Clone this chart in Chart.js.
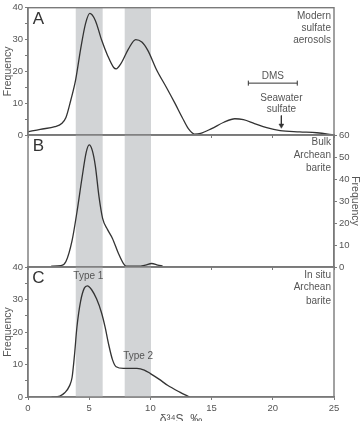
<!DOCTYPE html>
<html>
<head>
<meta charset="utf-8">
<script src="https://cdn.jsdelivr.net/npm/chart.js@4.4.1/dist/chart.umd.min.js"></script>
<style>
	html, body { margin: 0; padding: 0; background: #fff; }
	#wrap { position: relative; width: 363px; height: 421px; overflow: hidden; }
	#wrap canvas { position: absolute; left: 0; top: 0; }
</style>
</head>
<body>
<div id="wrap">
	<canvas id="panel-a" width="363" height="421"></canvas>
	<canvas id="panel-b" width="363" height="421"></canvas>
	<canvas id="panel-c" width="363" height="421"></canvas>
</div>
<script>
'use strict';

// x axis: delta34S, permil
const xTicks = [0, 5, 10, 15, 20, 25];
const grayBands = [[3.9, 6.1], [7.9, 10.05]];

// A: modern sulfate aerosols (left axis 0-40)
const aerosolX = [0, 1.0, 2.2, 2.75, 3.1, 3.5, 3.9, 4.3, 4.7, 5.05, 5.5, 6.0, 6.5, 7.0, 7.2, 7.6, 8.2, 8.8, 9.3, 9.8, 10.5, 11.3, 12.0, 12.6, 13.1, 13.6, 14.1, 15.0, 16.0, 16.9, 17.6, 18.5, 19.5, 20.6, 22.2, 23.6, 24.5, 25];
const aerosolY = [1.0, 1.8, 2.6, 3.6, 5.5, 11, 17.5, 27, 35, 38.2, 36, 30, 25, 21.2, 20.8, 22.5, 27, 30, 29.2, 26.5, 20.5, 15, 10, 5.5, 2, 0.3, 0.5, 2, 4, 5.1, 4.8, 3.6, 2.3, 1.4, 1.0, 0.7, 0.3, 0];
const dmsRange = [18, 22];
const dmsLevel = 16.3;
const seawaterSulfate = 20.7;
const arrowFromTo = [6.1, 3.0];

// B: bulk Archean barite (right axis 0-60)
const bulkX = [1.9, 2.7, 3.1, 3.6, 4.0, 4.4, 4.75, 5.0, 5.25, 5.5, 5.8, 6.1, 6.5, 6.9, 7.4, 7.8, 8.0, 9.0, 9.6, 10.1, 10.6, 11.0];
const bulkY = [0.4, 0.6, 2.5, 12, 25, 40, 52, 55.5, 53, 46, 32, 22, 17, 13, 6, 1.5, 0.4, 0.4, 0.9, 1.6, 0.9, 0.4];

// C: in situ Archean barite (left axis 0-40)
const insituX = [1.93, 2.6, 3.0, 3.4, 3.6, 3.8, 4.0, 4.3, 4.6, 4.85, 5.2, 5.6, 6.0, 6.3, 6.6, 6.9, 7.2, 7.8, 8.9, 9.5, 10.0, 10.7, 11.4, 12.4, 13.2];
const insituY = [0, 0.3, 1.3, 3.5, 6, 13, 21.6, 29.5, 33.5, 34.2, 33, 30.2, 26, 21.5, 16, 11.5, 9.3, 8.8, 8.8, 8.3, 7.2, 5.5, 3.6, 1.5, 0];

const FONT = '"Liberation Sans", Arial, sans-serif';
const AXIS = '#7a7a7a';
const TEXT = '#555';
const INK = '#333';

function pts(xs, ys){
	return xs.map((x, i) => ({x: x, y: ys[i]}));
}

function curve(xs, ys, axisId){
	return {
		data: pts(xs, ys),
		yAxisID: axisId,
		borderColor: INK,
		borderWidth: 1.3,
		pointRadius: 0,
		cubicInterpolationMode: 'monotone',
		fill: false
	};
}

function xScale(height, showLabels){
	return {
		type: 'linear', min: 0, max: 25,
		afterBuildTicks: s => { s.ticks = xTicks.map(v => ({value: v})); },
		afterFit: s => { s.height = height; },
		grid: {drawOnChartArea: false, tickLength: 3, color: AXIS},
		border: {color: AXIS, width: 1.4},
		ticks: {display: showLabels, color: TEXT, font: {family: FONT, size: 9.5}, padding: 3, maxRotation: 0},
		title: {display: showLabels, text: 'δ³⁴S, ‰', color: TEXT, font: {family: FONT, size: 12}, padding: {top: 0, bottom: -6}}
	};
}

function yScale(position, max, step, labelStep, width, showTitle){
	return {
		type: 'linear', position: position, min: 0, max: max,
		afterFit: s => { s.width = width; },
		grid: {drawOnChartArea: false, tickLength: 3, color: AXIS},
		border: {color: AXIS, width: 1.4},
		ticks: {
			stepSize: step, padding: 2, color: TEXT, font: {family: FONT, size: 9.5},
			callback: v => (v % labelStep === 0 ? v : '')
		},
		title: {display: showTitle, text: 'Frequency', color: TEXT, font: {family: FONT, size: 10.5}, padding: {top: 2, bottom: 0}}
	};
}

// shaded bands under the curves, frame and text notes on top
function decor(notes, axisId){
	return {
		id: 'decor',
		beforeDatasetsDraw(chart){
			const {ctx, chartArea: a, scales: {x}} = chart;
			ctx.save();
			ctx.fillStyle = '#d2d4d6';
			grayBands.forEach(([lo, hi]) => {
				const l = x.getPixelForValue(lo), r = x.getPixelForValue(hi);
				ctx.fillRect(l, a.top, r - l, a.bottom - a.top);
			});
			ctx.restore();
		},
		afterDraw(chart){
			const {ctx, chartArea: a, scales} = chart;
			const x = scales.x, y = scales[axisId];
			ctx.save();
			ctx.strokeStyle = AXIS;
			ctx.lineWidth = 1.4;
			ctx.strokeRect(a.left, a.top, a.right - a.left, a.bottom - a.top);
			ctx.fillStyle = TEXT;
			ctx.textBaseline = 'middle';
			notes.forEach(n => {
				ctx.font = (n.size || 10) + 'px ' + FONT;
				ctx.fillStyle = n.color || TEXT;
				ctx.textAlign = n.align || 'center';
				ctx.fillText(n.text, x.getPixelForValue(n.x), y.getPixelForValue(n.y));
			});
			ctx.restore();
		}
	};
}

function makePanel(id, datasets, scales, padding, notes, axisId){
	return new Chart(document.getElementById(id), {
		type: 'line',
		data: {datasets: datasets},
		options: {
			responsive: false,
			animation: false,
			layout: {padding: padding},
			plugins: {legend: {display: false}, tooltip: {enabled: false}},
			scales: scales
		},
		plugins: [decor(notes, axisId)]
	});
}

// panel A
makePanel('panel-a', [
	curve(aerosolX, aerosolY, 'y'),
	{
		data: dmsRange.map(v => ({x: v, y: dmsLevel})),
		yAxisID: 'y', borderColor: INK, borderWidth: 1, tension: 0,
		pointStyle: 'line', pointRotation: 90, pointRadius: 2.5, pointBorderColor: INK, pointBorderWidth: 1
	},
	{
		data: arrowFromTo.map(v => ({x: seawaterSulfate, y: v})),
		yAxisID: 'y', borderColor: INK, borderWidth: 1, tension: 0,
		pointStyle: 'triangle', pointRotation: 180, pointRadius: [0, 2.8],
		pointBackgroundColor: INK, pointBorderColor: INK, pointBorderWidth: 0.5
	}
], {
	x: xScale(4, false),
	y: yScale('left', 40, 5, 10, 28, true)
}, {top: 5, bottom: 421 - 135 - 4, left: 0, right: 29}, [
	{text: 'A', x: 0.85, y: 36.3, size: 17, align: 'center', color: '#333'},
	{text: 'Modern', x: 24.75, y: 37.4, align: 'right'},
	{text: 'sulfate', x: 24.75, y: 33.6, align: 'right'},
	{text: 'aerosols', x: 24.75, y: 29.9, align: 'right'},
	{text: 'DMS', x: 20.0, y: 18.5},
	{text: 'Seawater', x: 20.7, y: 11.7},
	{text: 'sulfate', x: 20.7, y: 8.0}
], 'y');

// panel B
makePanel('panel-b', [
	curve(bulkX, bulkY, 'y')
], {
	x: xScale(4, false),
	y: yScale('right', 60, 10, 10, 29, true)
}, {top: 135, bottom: 421 - 267 - 4, left: 28, right: 0}, [
	{text: 'B', x: 0.85, y: 54.7, size: 17, align: 'center', color: '#333'},
	{text: 'Bulk', x: 24.75, y: 56.7, align: 'right'},
	{text: 'Archean', x: 24.75, y: 50.9, align: 'right'},
	{text: 'barite', x: 24.75, y: 45.0, align: 'right'}
], 'y');

// panel C
makePanel('panel-c', [
	curve(insituX, insituY, 'y')
], {
	x: xScale(24, true),
	y: yScale('left', 40, 5, 10, 28, true)
}, {top: 267, bottom: 0, left: 0, right: 29}, [
	{text: 'C', x: 0.85, y: 36.5, size: 17, align: 'center', color: '#333'},
	{text: 'Type 1', x: 4.93, y: 37.2},
	{text: 'Type 2', x: 9.0, y: 12.6},
	{text: 'In situ', x: 24.75, y: 37.5, align: 'right'},
	{text: 'Archean', x: 24.75, y: 33.7, align: 'right'},
	{text: 'barite', x: 24.75, y: 29.6, align: 'right'}
], 'y');
</script>
</body>
</html>
